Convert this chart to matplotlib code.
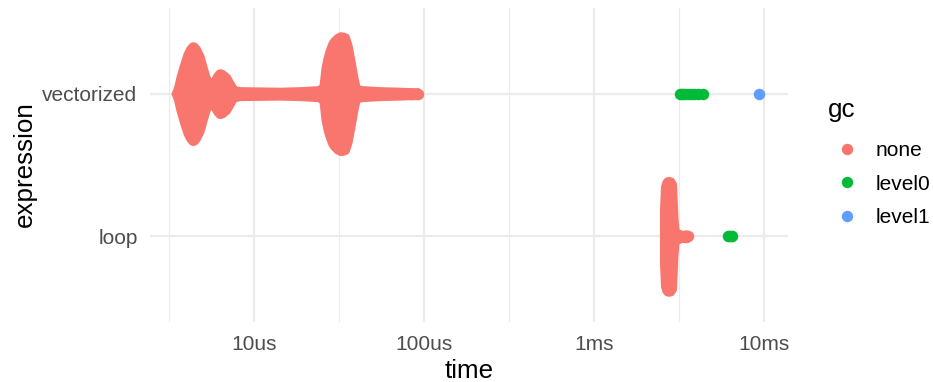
import numpy as np
import matplotlib
matplotlib.use('Agg')
import matplotlib.pyplot as plt
from matplotlib.lines import Line2D

plt.rcParams['font.family'] = ['Liberation Sans', 'DejaVu Sans']

# expressions on the y axis (loop = 1, vectorized = 2)
expressions = ['loop', 'vectorized']

# outline of the "vectorized" swarm (gc = none): time in microseconds, half width in rows
vec_time_us = [3.338, 3.453, 3.572, 3.746, 3.928, 4.091, 4.261, 4.377, 4.528, 4.684,
               4.945, 5.150, 5.363, 5.585, 5.739, 5.896, 6.140, 6.310, 6.571, 7.033,
               7.424, 7.731, 8.275, 14.22, 18.65, 23.79, 24.78, 25.46, 26.16, 26.88,
               28.00, 28.76, 30.37, 32.06, 33.84, 35.25, 36.70, 38.23, 39.81, 40.91,
               43.19, 55.11, 72.25, 85.01, 92.21]
vec_half = [0.0, 0.056, 0.133, 0.217, 0.294, 0.336, 0.360, 0.364, 0.357, 0.336,
            0.280, 0.203, 0.133, 0.098, 0.119, 0.147, 0.171, 0.175, 0.168, 0.140,
            0.091, 0.056, 0.049, 0.045, 0.049, 0.056, 0.070, 0.196, 0.266, 0.315,
            0.371, 0.392, 0.420, 0.434, 0.430, 0.420, 0.357, 0.245, 0.126, 0.063,
            0.056, 0.049, 0.045, 0.042, 0.042]

# outline of the "loop" swarm (gc = none): time in milliseconds
loop_time_ms = [2.496, 2.529, 2.581, 2.652, 2.762, 2.876, 2.975, 3.037, 3.078, 3.293,
                3.477, 3.572]
loop_half = [0.21, 0.364, 0.399, 0.416, 0.420, 0.413, 0.385, 0.14, 0.056, 0.042,
             0.045, 0.042]

# single points
none_vec_s = [85.0e-6, 92.2e-6]
none_loop_s = [3.48e-3, 3.57e-3]
level0_vec_ms = [3.2, 3.28, 3.36, 3.45, 3.55, 3.7, 3.85, 4.1, 4.4]
level0_loop_ms = [6.1, 6.25, 6.4, 6.5]
level1_vec_ms = [9.35]

gc_levels = ['none', 'level0', 'level1']
gc_colors = {'none': '#F8766D', 'level0': '#00BA38', 'level1': '#619CFF'}

tick_vals = [1e-5, 1e-4, 1e-3, 1e-2]
tick_labels = ['10us', '100us', '1ms', '10ms']

W, H = 933, 382
fig = plt.figure(figsize=(W / 100, H / 100), dpi=100)
ax = fig.add_axes([150 / W, 60 / H, 638 / W, 314 / H])

msize = 68
edge_lw = 2.9            # points, rounds the outline like the dots do
inset = 2.0 / 143        # half of the edge width, in rows

def swarm(times, half, row):
    h = np.clip(np.array(half) - inset, 0, None)
    ax.fill_between(times, row - h, row + h, color=gc_colors['none'], lw=edge_lw,
                    edgecolor=gc_colors['none'], joinstyle='round', zorder=3)

swarm(np.array(vec_time_us) * 1e-6, vec_half, 2)
swarm(np.array(loop_time_ms) * 1e-3, loop_half, 1)

ax.scatter(none_vec_s, [2] * len(none_vec_s), s=msize, color=gc_colors['none'], lw=0, zorder=3)
ax.scatter(none_loop_s, [1] * len(none_loop_s), s=msize, color=gc_colors['none'], lw=0, zorder=3)
ax.scatter(np.array(level0_vec_ms) * 1e-3, [2] * len(level0_vec_ms), s=msize,
           color=gc_colors['level0'], lw=0, zorder=4)
ax.scatter(np.array(level0_loop_ms) * 1e-3, [1] * len(level0_loop_ms), s=msize,
           color=gc_colors['level0'], lw=0, zorder=4)
ax.scatter(np.array(level1_vec_ms) * 1e-3, [2] * len(level1_vec_ms), s=msize,
           color=gc_colors['level1'], lw=0, zorder=4)

ax.set_xscale('log')
ax.set_xlim(10 ** -5.6118, 10 ** -1.8588)
ax.set_ylim(0.4, 2.6)
ax.set_xticks(tick_vals)
ax.set_xticklabels(tick_labels)
ax.set_xticks([10 ** -5.5, 10 ** -4.5, 10 ** -3.5, 10 ** -2.5], minor=True)
ax.xaxis.set_minor_formatter(plt.NullFormatter())
ax.set_yticks([1, 2])
ax.set_yticklabels(expressions)
ax.set_yticks([], minor=True)

ax.grid(which='major', color='#EBEBEB', lw=1.6, zorder=0)
ax.grid(which='minor', axis='x', color='#EBEBEB', lw=0.8, zorder=0)
ax.set_axisbelow(True)
for s in ax.spines.values():
    s.set_visible(False)
ax.tick_params(which='both', length=0, labelsize=15, labelcolor='#4D4D4D')
ax.tick_params(axis='x', pad=9)
ax.tick_params(axis='y', pad=9)

fig.text(469 / W, 1 - 378 / H, 'time', ha='center', va='baseline', size=18.7)
fig.text(25 / W, 1 - 164 / H, 'expression', ha='center', va='center', rotation=90, size=18.7)

# legend
fig.text(828 / W, 1 - 116.5 / H, 'gc', ha='left', va='baseline', size=18.7)
handles = [Line2D([], [], marker='o', ls='none', markersize=8.2, markeredgewidth=0,
                  color=gc_colors[g]) for g in gc_levels]
fig.legend(handles, gc_levels, loc='upper left', bbox_to_anchor=(826 / W, 1 - 141 / H),
           frameon=False, fontsize=15, borderpad=0, borderaxespad=0,
           handletextpad=0.4, labelspacing=0.7, handlelength=2.0)

fig.savefig('out.png', dpi=100)
